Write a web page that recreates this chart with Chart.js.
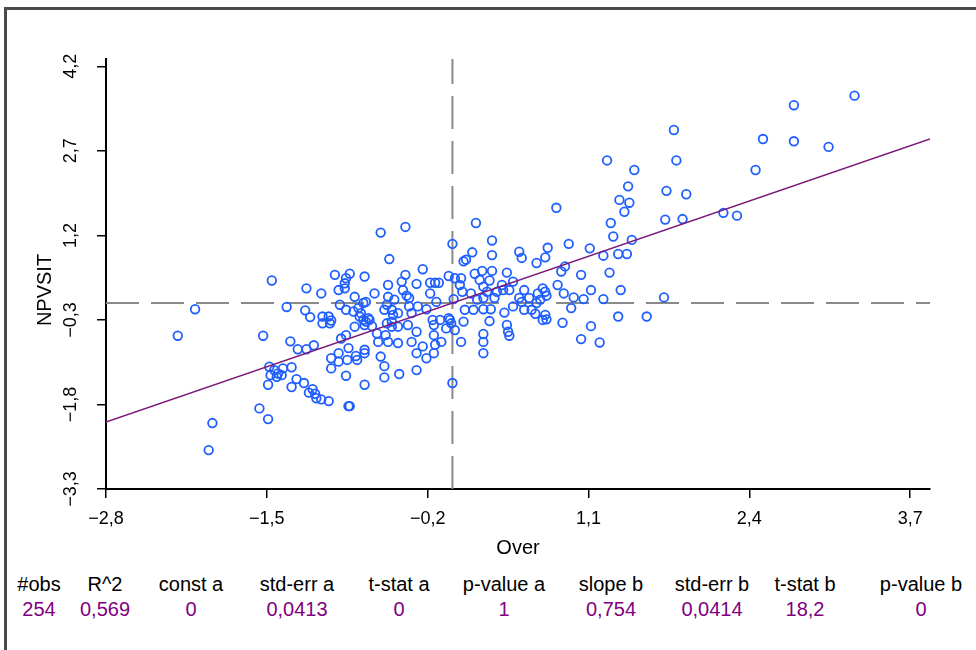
<!DOCTYPE html>
<html>
<head>
<meta charset="utf-8">
<script src="https://cdn.jsdelivr.net/npm/chart.js@4.4.1/dist/chart.umd.min.js"></script>
<style>
  html, body { margin: 0; padding: 0; background: #fff; }
  body { width: 976px; height: 650px; position: relative; overflow: hidden; }
  #frame { position: absolute; left: 4px; top: 7px; width: 1000px; height: 700px;
           border-top: 3px solid #4a4a4a; border-left: 3px solid #4a4a4a; }
  #plot { position: absolute; left: 0; top: 0; }
  .stats { position: absolute; left: 0; width: 976px; height: 22px;
           font: 20px "Liberation Sans", Arial, sans-serif; }
  .stats span { position: absolute; transform: translateX(-50%); white-space: nowrap; }
  #statHead { top: 573px; color: #000; }
  #statVals { top: 598px; color: #800080; }
</style>
</head>
<body>
<div id="frame"></div>
<canvas id="plot" width="976" height="560"></canvas>
<div class="stats" id="statHead"></div>
<div class="stats" id="statVals"></div>

<script>
// ── Observations (Over vs NPVSIT, both standardised) ─────────────────────
const overX = [
  // low end
  -2.22, -2.08, -1.94, -1.97, -1.46, -1.53, -1.56, -1.49, -1.49, -1.18, -1.06, -1.34, -1.19, -1.15,
  -1.05, -1.00, -0.98, -1.05, -0.99, -1.31, -1.25, -1.18, -1.12, -1.48, -1.44, -1.41, -1.37, -1.47,
  -1.38, -1.42, -1.30, -1.30, -1.26, -1.20, -1.16, -1.13, -1.11, -1.10, -1.06, -1.00,
  // left of the mean
  -0.95, -0.86, -0.83, -0.87, -0.92, -0.87, -0.71, -0.51, -0.58, -0.79, -0.63,
  -0.80, -0.76, -0.72, -0.70, -0.75, -0.72, -0.70, -0.68, -0.71, -0.67, -0.74, -0.79,
  -0.90, -0.86, -0.84, -0.92, -0.98, -0.92, -0.98, -0.85, -0.78, -0.77, -0.71, -0.71,
  -0.86, -0.71, -0.61, -0.54, -0.60, -0.52, -0.44, -0.58, -0.55, -0.55, -0.43, -0.84, -0.83,
  -0.52, -0.52, -0.53, -0.47, -0.55, -0.49, -0.44, -0.48, -0.49, -0.44, -0.53, -0.49, -0.91, -0.86,
  // around the mean
  -0.38, 0.19, 0.00, 0.32, 0.54, 0.56, 0.77, 0.75, 0.68, 0.94, 0.16, 0.11, 0.09, 0.32, -0.24, -0.03,
  -0.38, -0.41, -0.40, -0.37, -0.35, -0.29, -0.18, -0.14, -0.11, -0.18, -0.13,
  0.02, 0.07, 0.06, 0.08, 0.18, 0.24, 0.32, 0.22, 0.25, 0.30, 0.40, 0.44, 0.49, 0.46, 0.41,
  0.15, 0.20, 0.25, 0.34, 0.28, 0.36, 0.58, 0.54, 0.56, 0.62, 0.69, 0.73, 0.75, 0.76, 0.71, 0.68,
  0.85, 0.90, 0.98, 1.06, 1.04, 0.88, 0.91, 1.12,
  -0.35, -0.28, -0.21, -0.33, -0.36, -0.29, -0.33, -0.29, -0.24, -0.21, -0.15, -0.14, -0.09, -0.15,
  -0.15, -0.16, -0.10, -0.03, -0.01, 0.02, -0.02, -0.05, 0.09, 0.07,
  0.10, 0.17, 0.25, 0.31, 0.30, 0.25, 0.25, 0.25, 0.42, 0.44, 0.45, 0.46,
  0.49, 0.58, 0.64, 0.67, 0.75, 0.76, 0.73, 0.89, 0.96, 1.04, 1.12, -0.29, 0.00, 0.84, 1.11, 0.01, -0.65,
  // high end
  1.42, 1.35, 1.43, 1.39, 1.73, 1.89, 1.72, 1.86, 2.19, 2.30, 1.28, 1.30, 1.45, 1.22, 1.34, 1.41,
  1.27, 1.22, 1.36, 1.71, 1.34, 1.57, 1.19, 3.25, 2.76, 1.79, 2.51, 2.76, 3.04, 1.25, 1.81, 1.47, 2.45
];
const npvsitY = [
  -0.58, -0.11, -2.13, -2.61, 0.40, -0.58, -1.87, -2.06, -1.45, 0.26, 0.17, -0.07, -0.13, -0.25,
  -0.24, -0.24, -0.31, -0.36, -0.36, -0.68, -0.82, -0.82, -0.75, -1.13, -1.19, -1.25, -1.16, -1.28,
  -1.28, -1.31, -1.14, -1.49, -1.35, -1.42, -1.59, -1.53, -1.61, -1.69, -1.71, -1.74,
  0.50, 0.44, 0.52, 0.35, 0.23, 0.26, 0.47, 0.78, 1.25, 0.11, 0.17,
  -0.15, -0.09, 0.00, 0.02, -0.24, -0.30, -0.33, -0.27, -0.39, -0.30, -0.18, -0.42,
  -0.63, -0.57, -0.80, -0.89, -0.98, -1.04, -1.16, -1.01, -0.94, -1.01, -0.83, -0.89,
  -1.29, -1.45, -0.54, -0.57, -0.69, -0.69, -0.71, -0.95, -1.12, -1.32, -1.26, -1.83, -1.83,
  0.32, 0.11, -0.03, 0.06, -0.12, -0.12, -0.18, -0.21, -0.42, -0.42, -0.36, -0.33, -0.03, -0.12,
  1.35, 1.42, 1.05, 1.11, 0.91, 0.80, 0.98, 0.81, 0.71, 1.05, 0.90, 0.77, 0.74, 0.85, 0.60, 0.48,
  0.50, 0.38, 0.23, 0.13, 0.09, 0.34, 0.36, 0.36, 0.36, 0.17, 0.02,
  0.44, 0.44, 0.32, 0.20, 0.52, 0.57, 0.57, 0.41, 0.29, 0.40, 0.32, 0.54, 0.38, 0.23, 0.23,
  0.17, 0.06, 0.09, 0.09, 0.20, 0.20, 0.23, 0.09, 0.02, 0.09, 0.17, 0.26, 0.20, 0.13, 0.06, 0.00,
  0.32, 0.17, 0.10, 0.07, 0.50, 0.56, 0.65, 0.23,
  -0.06, -0.06, -0.11, -0.18, -0.39, -0.51, -0.69, -0.89, -0.77, -0.98, -0.89, -0.74, -0.69, -0.57,
  -0.39, -0.30, -0.30, -0.27, -0.36, -0.48, -0.30, -0.45, -0.33, -0.69,
  -0.12, -0.12, -0.11, -0.11, -0.32, -0.55, -0.69, -0.89, -0.17, -0.39, -0.51, -0.58,
  -0.06, -0.12, -0.12, -0.19, -0.21, -0.29, -0.30, -0.35, -0.09, -0.64, -0.41, -1.19, -1.42, 1.69, 0.97, 0.07, -0.41,
  2.07, 1.83, 1.78, 1.62, 1.99, 1.93, 1.48, 1.49, 1.60, 1.55, 1.42, 1.18, 1.12, 0.84, 0.87, 0.87,
  0.54, 0.07, 0.23, 0.10, -0.24, -0.24, -0.70, 3.68, 3.51, 3.07, 2.91, 2.87, 2.77, 2.53, 2.53, 2.36, 2.36
];

// ── Axes ────────────────────────────────────────────────────────────────
const xTicks = [-2.8, -1.5, -0.2, 1.1, 2.4, 3.7];
const yTicks = [-3.3, -1.8, -0.3, 1.2, 2.7, 4.2];
const xMax = 3.86;
const yMax = 4.33;
const xTitle = "Over";
const yTitle = "NPVSIT";

// ── Regression summary ──────────────────────────────────────────────────
const statNames  = ["#obs", "R^2", "const a", "std-err a", "t-stat a", "p-value a", "slope b", "std-err b", "t-stat b", "p-value b"];
const statValues = ["254", "0,569", "0", "0,0413", "0", "1", "0,754", "0,0414", "18,2", "0"];
const statCenters = [39, 105, 191, 297, 399, 504, 611, 712, 805, 921];
const constA = 0;
const slopeB = 0.754;

const BLUE   = "#1f5fff";
const PURPLE = "#7b1a7b";
const GRAY   = "#8a8a8a";
const FAMILY = "'Liberation Sans', Arial, sans-serif";
const TICK_FONT  = { family: FAMILY, size: 18 };
const TITLE_FONT = { family: FAMILY, size: 20 };

const fmt = v => (Math.round(v * 10) / 10).toFixed(1).replace(".", ",").replace("-", "\u2212");

// stats table
function fillRow(id, items) {
  const row = document.getElementById(id);
  items.forEach((t, i) => {
    const s = document.createElement("span");
    s.textContent = t;
    s.style.left = statCenters[i] + "px";
    row.appendChild(s);
  });
}
fillRow("statHead", statNames);
fillRow("statVals", statValues);

const points  = overX.map((x, i) => ({ x, y: npvsitY[i] }));
const xMin = xTicks[0], yMin = yTicks[0];
const fitLine = [xMin, xMax].map(x => ({ x, y: constA + slopeB * x }));
const meanX = 0, meanY = 0;

// y tick labels and the y title are drawn rotated, reading bottom to top
const rotatedYText = {
  id: "rotatedYText",
  afterDraw(chart) {
    const s = chart.scales.y, c = chart.ctx;
    const put = (text, x, y, font) => {
      c.save();
      c.font = `${font.size}px ${font.family}`;
      c.translate(x, y);
      c.rotate(-Math.PI / 2);
      c.fillText(text, 0, 0);
      c.restore();
    };
    c.save();
    c.fillStyle = "#000";
    c.textAlign = "center";
    c.textBaseline = "middle";
    yTicks.forEach(v => put(fmt(v), 71, s.getPixelForValue(v), TICK_FONT));
    put(yTitle, 45, 290, TITLE_FONT);
    c.restore();
  }
};

const axisGrid = { drawOnChartArea: false, drawTicks: true, tickLength: 9, color: "#000", lineWidth: 1.5 };
const axisBorder = { display: true, color: "#000", width: 2 };

new Chart(document.getElementById("plot"), {
  type: "scatter",
  data: {
    datasets: [
      {
        data: fitLine, type: "line", borderColor: PURPLE, borderWidth: 1.4,
        pointRadius: 0, fill: false, order: 0,
      },
      {
        data: points, pointRadius: 4.3, pointBorderWidth: 1.8, pointBorderColor: BLUE,
        pointBackgroundColor: "rgba(0,0,0,0)", order: 1,
      },
      {
        data: [{ x: xMin, y: meanY }, { x: xMax, y: meanY }], type: "line", borderColor: GRAY,
        borderWidth: 2, borderDash: [33, 12], pointRadius: 0, fill: false, order: 2,
      },
      {
        data: [{ x: meanX, y: yMin }, { x: meanX, y: yMax }], type: "line", borderColor: GRAY,
        borderWidth: 2, borderDash: [33, 12], pointRadius: 0, fill: false, order: 2,
      },
    ],
  },
  options: {
    responsive: false,
    animation: false,
    devicePixelRatio: 1,
    layout: { padding: { top: 59, right: 46, left: 0, bottom: 0 } },
    plugins: { legend: { display: false }, tooltip: { enabled: false } },
    scales: {
      x: {
        type: "linear", min: xMin, max: xMax,
        afterBuildTicks: s => { s.ticks = xTicks.map(value => ({ value })); },
        afterFit: s => { s.height = 71; },
        border: axisBorder, grid: axisGrid,
        ticks: { color: "#000", font: TICK_FONT, padding: 10, maxRotation: 0, autoSkip: false, callback: v => fmt(v) },
        title: { display: true, text: xTitle, color: "#000", font: TITLE_FONT, padding: { top: 0, bottom: 0 } },
      },
      y: {
        type: "linear", min: yMin, max: yMax,
        afterBuildTicks: s => { s.ticks = yTicks.map(value => ({ value })); },
        afterFit: s => { s.width = 106; },
        border: axisBorder, grid: axisGrid,
        ticks: { callback: () => "" },
        title: { display: false },
      },
    },
  },
  plugins: [rotatedYText],
});
</script>
</body>
</html>
